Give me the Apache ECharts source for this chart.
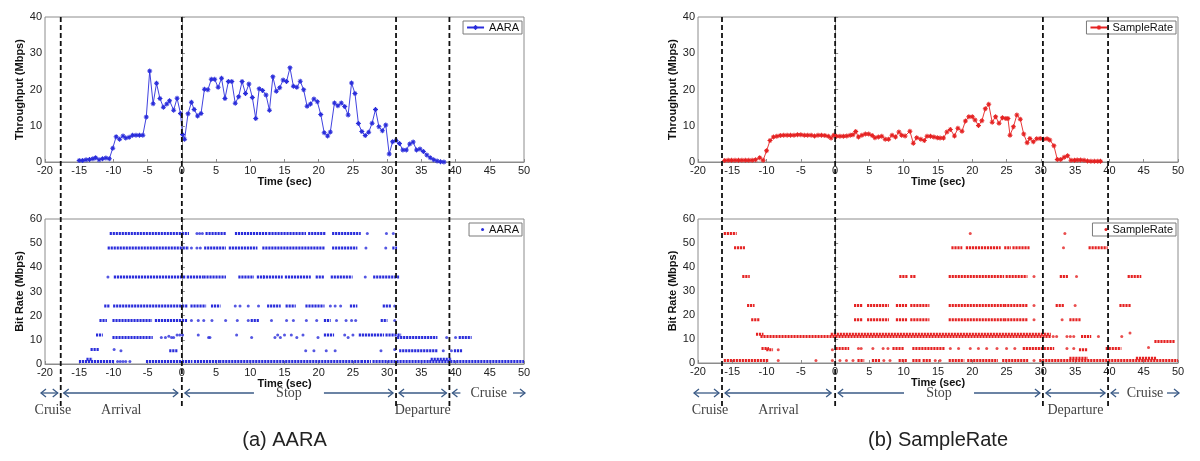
<!DOCTYPE html>
<html><head><meta charset="utf-8">
<script src="https://cdn.jsdelivr.net/npm/echarts@6/dist/echarts.min.js"></script>
<style>html,body{margin:0;padding:0;background:#fff}#c{width:1200px;height:461px}</style>
</head><body><div id="c"></div>
<script>
// ---------------- DATA ----------------
const panelCaptions = ['(a) AARA', '(b) SampleRate'];
const seriesNames = ['AARA', 'SampleRate'];
const phaseNames = ['Cruise', 'Arrival', 'Stop', 'Departure', 'Cruise'];
const aaraPhases = [-17.7, 0, 31.3, 39.1];
const srPhases = [-16.5, 0, 30.3, 39.8];

// Throughput (time sec, Mbps)
const aaraThroughput = [
 [-15.0,0.4],[-14.5,0.4],[-14.0,0.6],[-13.5,0.7],[-13.0,0.9],[-12.6,1.2],[-12.1,0.6],[-11.6,0.9],[-11.1,1.1],[-10.6,0.9],
 [-10.1,3.8],[-9.6,7.0],[-9.1,6.3],[-8.6,7.2],[-8.2,6.6],[-7.7,6.8],[-7.2,7.4],[-6.7,7.4],[-6.2,7.4],[-5.7,7.4],
 [-5.2,12.4],[-4.7,25.1],[-4.2,16.1],[-3.7,21.7],[-3.2,17.5],[-2.7,15.1],[-2.2,16.0],[-1.8,16.9],[-1.2,14.3],[-0.7,17.6],
 [-0.2,13.4],[0.1,7.6],[0.4,6.3],[0.9,13.3],[1.4,16.5],[1.8,14.5],[2.3,12.7],[2.8,13.4],[3.3,20.1],[3.8,19.9],
 [4.3,22.8],[4.8,22.8],[5.3,20.6],[5.8,23.1],[6.3,17.5],[6.8,22.2],[7.3,22.2],[7.8,16.2],[8.3,18.0],[8.8,22.2],
 [9.3,18.9],[9.8,21.5],[10.3,17.8],[10.8,12.0],[11.3,20.2],[11.8,19.7],[12.3,18.5],[12.8,14.3],[13.3,23.5],[13.8,19.5],
 [14.3,20.5],[14.8,22.6],[15.3,22.2],[15.8,26.0],[16.3,20.9],[16.8,20.6],[17.3,22.3],[17.8,19.9],[18.3,15.4],[18.8,16.0],
 [19.3,17.4],[19.8,16.6],[20.3,13.1],[20.8,8.1],[21.3,7.2],[21.7,8.3],[22.3,16.3],[22.8,15.5],[23.3,16.3],[23.8,15.3],
 [24.3,13.0],[24.8,21.8],[25.3,18.9],[25.8,10.6],[26.3,8.4],[26.8,7.3],[27.3,8.2],[27.8,10.7],[28.3,14.5],[28.8,9.7],
 [29.3,8.6],[29.8,10.2],[30.3,2.2],[30.8,5.6],[31.3,5.9],[31.8,5.1],[32.3,3.3],[32.8,3.3],[33.3,5.0],[33.8,5.5],
 [34.3,3.3],[34.8,3.6],[35.3,2.9],[35.8,1.9],[36.3,1.2],[36.8,0.6],[37.3,0.3],[37.8,0.1],[38.3,0.0]
];
const srThroughput = [
 [-16.1,0.4],[-15.6,0.5],[-15.1,0.5],[-14.6,0.5],[-14.1,0.5],[-13.6,0.5],[-13.1,0.5],[-12.6,0.5],[-12.1,0.5],[-11.6,0.6],
 [-11.0,1.2],[-10.5,0.5],[-10.0,3.1],[-9.5,5.9],[-9.0,6.9],[-8.5,7.1],[-8.0,7.3],[-7.5,7.4],[-7.0,7.4],[-6.5,7.4],
 [-6.0,7.4],[-5.5,7.5],[-5.0,7.5],[-4.5,7.4],[-4.0,7.4],[-3.5,7.4],[-3.0,7.2],[-2.5,7.4],[-2.0,7.4],[-1.5,7.3],
 [-1.0,7.1],[-0.6,6.6],[-0.2,7.4],[0.2,7.1],[0.7,7.1],[1.2,7.1],[1.7,7.2],[2.2,7.4],[2.6,7.5],[3.0,8.4],
 [3.4,6.9],[3.9,7.4],[4.4,7.7],[4.9,7.7],[5.4,7.3],[5.8,6.7],[6.3,6.9],[6.8,7.1],[7.3,6.3],[7.8,6.3],
 [8.3,7.4],[8.8,6.9],[9.3,8.3],[9.7,7.4],[10.2,7.2],[10.9,8.5],[11.4,5.2],[11.9,6.7],[12.5,6.3],[13.0,5.9],
 [13.4,7.1],[13.9,7.1],[14.4,6.9],[14.9,6.7],[15.3,6.6],[15.8,6.6],[16.3,8.3],[16.8,9.0],[17.4,7.2],[17.9,9.3],
 [18.5,8.5],[19.0,11.3],[19.5,12.5],[20.0,12.5],[20.4,11.6],[20.9,10.1],[21.4,11.4],[21.9,14.7],[22.4,15.9],[22.9,11.0],
 [23.4,12.5],[23.9,10.7],[24.4,12.2],[24.9,12.0],[25.2,12.0],[25.5,7.4],[26.0,9.7],[26.5,13.0],[27.0,11.8],[27.5,7.7],
 [28.0,5.3],[28.4,6.5],[28.9,5.6],[29.4,6.4],[29.9,6.5],[30.4,6.3],[30.9,6.4],[31.3,6.1],[31.9,4.5],[32.4,0.7],
 [32.9,0.7],[33.4,1.3],[33.9,1.7],[34.4,0.5],[34.9,0.5],[35.3,0.55],[35.8,0.55],[36.3,0.5],[36.8,0.3],[37.3,0.2],
 [37.8,0.2],[38.3,0.2],[38.7,0.2]
];

// Bit rate: dense runs of samples [from sec, to sec, rate Mbps] and isolated samples [sec, rate]
const aaraRateRuns = [
 [-10.4,0.9,54],[3.6,6.3,54],[7.9,12.5,54],[12.8,18.0,54],[18.6,20.9,54],[22.1,26.0,54],
 [-10.7,0.9,48],[3.4,6.3,48],[7.0,10.9,48],[11.9,20.7,48],[22.1,25.5,48],[30.9,31.3,48],
 [-9.8,0.5,36],[0.9,3.0,36],[3.3,6.3,36],[8.4,10.4,36],[11.1,11.9,36],[12.0,14.6,36],[15.2,18.7,36],[19.7,20.7,36],[21.9,24.8,36],[28.1,31.6,36],
 [-11.2,-10.7,24],[-9.9,0.7,24],[1.4,3.4,24],[4.4,5.5,24],[12.6,14.3,24],[15.3,16.5,24],[18.2,20.7,24],[24.7,25.5,24],[29.5,30.4,24],
 [-11.9,-11.1,18],[-10.0,-4.5,18],[-3.8,0.7,18],[10.2,11.2,18],[20.9,21.6,18],[29.2,29.9,18],
 [-12.4,-11.7,12],[-10.0,-4.4,11],[20.9,22.1,12],[26.0,29.4,12],[29.9,31.9,12],[31.6,37.2,11],[40.6,42.2,11],
 [-13.2,-12.2,6],[-1.7,-0.8,5.5],[31.9,37.2,5.5],[39.9,40.9,5.5],
 [-14.9,-10.0,1],[-13.8,-13.2,2],[-5.1,1.4,1],[1.9,5.3,1],[5.6,11.0,1],[11.3,26.0,1],[26.3,27.5,1],[28.0,36.0,1],[36.3,50,1],[36.5,39.3,2]
];
const aaraRateDots = [
 [2.2,54],[2.6,54],[3.0,54],[27.1,54],[29.9,54],[30.9,54],
 [1.4,48],[2.2,48],[2.7,48],[26.9,48],[29.8,48],
 [-10.8,36],[26.8,36],
 [7.8,24],[8.5,24],[9.7,24],[11.2,24],[21.7,24],[22.4,24],[23.2,24],[31.1,24],
 [1.4,18],[2.4,18],[3.2,18],[4.4,18],[6.4,18],[8.1,18],[9.7,18],[13.1,18],[15.3,18],[16.3,18],[18.2,18],[19.7,18],[22.6,18],[24.0,18],[24.8,18],[25.4,18],[31.1,18],
 [-3.0,11],[-2.4,11],[-1.9,11.5],[-1.5,11],[-1.2,11],[-0.7,12],[-0.3,12],[0.1,12],[2.4,12],[3.9,11],[4.1,11],[8.0,12],[10.2,11],[13.6,11],[14.0,12],[14.4,11],[15.0,12],[16.0,12],[16.8,11],[17.7,12],[19.9,11],[23.8,12],[24.3,11],[25.0,12],[38.7,11],[40.0,11],
 [-9.9,6],[-8.9,5.5],[18.1,5.5],[19.3,5.5],[21.1,5.5],[22.4,5.5],[29.1,5.5],[31.1,6],[38.2,5.5],[39.4,5.5],
 [-9.4,1],[-9.0,1],[-8.6,1],[-8.2,1],[-7.6,1]
];
const srRateRuns = [
 [-16.1,-14.5,54],
 [-14.6,-13.3,48],[17.1,18.4,48],[19.2,24.0,48],[24.8,25.5,48],[26.0,28.2,48],[37.1,39.6,48],
 [-13.4,-12.6,36],[9.5,10.4,36],[11.1,11.6,36],[16.7,24.5,36],[25.0,27.9,36],[32.9,33.8,36],[42.8,44.5,36],
 [-12.7,-11.9,24],[2.9,3.8,24],[4.8,7.7,24],[9.0,10.4,24],[11.1,13.6,24],[16.7,24.5,24],[24.8,28.0,24],[32.3,33.3,24],[41.6,43.0,24],
 [-12.1,-11.2,18],[2.9,3.8,18],[4.8,7.7,18],[9.0,10.4,18],[11.1,13.6,18],[16.7,24.5,18],[24.8,28.0,18],[34.3,35.7,18],
 [-11.4,-10.6,12],[-0.5,31.3,12],
 [-10.75,31.3,11],[36.0,37.2,11],
 [46.7,49.4,9],
 [-10.6,-9.8,6],[-9.9,-9.2,5.5],[0.2,1.9,6],[8.5,9.9,6],[11.4,15.8,6],[27.5,31.8,6],[35.7,36.7,5.5],[39.6,41.6,6],
 [-16.1,-9.8,1],[3.4,4.1,1],[5.5,6.4,1],[9.4,10.4,1],[11.4,12.4,1],[12.9,13.9,1],[16.7,18.7,1],[19.4,23.6,1],[24.5,28.0,1],[29.9,50,1],
 [34.3,36.7,2],[44.0,46.7,2]
];
const srRateDots = [
 [19.7,54],[33.5,54],
 [33.3,48],
 [29.0,36],[35.2,36],
 [29.0,24],[35.0,24],
 [29.0,18],[33.1,18],
 [31.8,11],[32.3,11],[33.8,11],[34.3,11],[34.8,11],[38.4,11],[41.8,11],[43.0,12.5],
 [-8.3,5.5],[-0.4,5.5],[3.4,6],[3.8,6],[5.5,6],[7.0,6],[7.7,6],[16.8,6],[18.0,6],[19.7,6],[20.9,6],[22.1,6],[23.6,6],[25.0,6],[26.2,6],[33.8,6],[34.8,6],[45.7,6.5],
 [-8.3,1],[-2.8,1],[-0.4,1],[0.7,1],[1.65,1],[2.6,1],[7.1,1],[8.0,1],[14.6,1],[15.3,1],[29.0,1]
];

// ---------------- STYLE ----------------
const BLUE = '#2a2ddb', RED = '#e52222';
const SANS = '"Liberation Sans", Arial, sans-serif';
const SERIF = '"Liberation Serif", "DejaVu Serif", serif';
const STAR = 'path://M4,0h2v10h-2z M0,4h10v2h-10z M1,2.4l1.4,-1.4l6.6,6.6l-1.4,1.4z M7.6,1l1.4,1.4l-6.6,6.6l-1.4,-1.4z';

const grids = [
  {left:45, top:17, width:479, height:145},
  {left:45, top:219, width:479, height:145},
  {left:698, top:17, width:480, height:145},
  {left:698, top:219, width:480, height:144}
].map(g => Object.assign({show:true, borderColor:'#8c8c8c', borderWidth:1, backgroundColor:'transparent'}, g));

function xAx(i, gap){
  return {type:'value', gridIndex:i, min:-20, max:50, interval:5,
    name:'Time (sec)', nameLocation:'middle', nameGap:gap,
    nameTextStyle:{fontFamily:SANS, fontSize:11, fontWeight:'bold', color:'#111'},
    axisLine:{show:true, onZero:false, lineStyle:{color:'#8c8c8c', width:1}},
    axisTick:{show:true, inside:true, length:3, lineStyle:{color:'#8c8c8c'}},
    axisLabel:{fontFamily:SANS, fontSize:11, color:'#222', margin:3},
    splitLine:{show:false}};
}
function yAx(i, max, name, gap){
  return {type:'value', gridIndex:i, min:0, max:max, interval:10,
    name:name, nameLocation:'middle', nameGap:gap,
    nameTextStyle:{fontFamily:SANS, fontSize:11, fontWeight:'bold', color:'#111'},
    axisLine:{show:true, lineStyle:{color:'#8c8c8c', width:1}},
    axisTick:{show:true, inside:true, length:3, lineStyle:{color:'#8c8c8c'}},
    axisLabel:{fontFamily:SANS, fontSize:11, color:'#222', margin:3},
    splitLine:{show:false}};
}
function runSeries(name, idx, data, color){
  return {type:'custom', name:name, xAxisIndex:idx, yAxisIndex:idx, data:data, clip:true,
    encode:{x:[0,1], y:2},
    renderItem:function(params, api){
      const a = api.coord([api.value(0), api.value(2)]);
      const b = api.coord([api.value(1), api.value(2)]);
      return {type:'line', shape:{x1:a[0]-1, y1:a[1], x2:b[0]+1, y2:b[1]},
        style:{stroke:color, lineWidth:3, lineDash:[2.2,0.8]}};
    }};
}
function legendBox(name, top, right, lineIcon, pad){
  const d = lineIcon ? [name] : [{name:name, icon:'circle'}];
  return {data:d, top:top, right:right, orient:'horizontal', selectedMode:false,
    borderColor:'#7a7a7a', borderWidth:1, borderRadius:0, padding:pad,
    itemWidth: lineIcon ? 17 : 3, itemHeight: lineIcon ? 6 : 3, itemGap:4,
    textStyle:{fontFamily:SANS, fontSize:11, color:'#111', padding:[1,0,0,0]}};
}

const option = {
  animation:false,
  backgroundColor:'#fff',
  grid:grids,
  xAxis:[xAx(0,14), xAx(1,13), xAx(2,14), xAx(3,13)],
  yAxis:[yAx(0,40,'Throughput (Mbps)',13), yAx(1,60,'Bit Rate (Mbps)',13), yAx(2,40,'Throughput (Mbps)',12), yAx(3,60,'Bit Rate (Mbps)',12)],
  legend:[
    legendBox(seriesNames[0], 21, 678, true, [1,3,1,3]),
    legendBox(seriesNames[0], 223, 678, false, [1,3,1,12]),
    legendBox(seriesNames[1], 21, 24, true, [1,3,1,3]),
    legendBox(seriesNames[1], 223, 24, false, [1,3,1,12])
  ],
  series:[
    {type:'line', name:seriesNames[0], xAxisIndex:0, yAxisIndex:0, data:aaraThroughput,
      symbol:STAR, symbolSize:5, showAllSymbol:true, color:BLUE,
      lineStyle:{color:BLUE, width:0.9}, itemStyle:{color:BLUE}},
    {type:'line', name:seriesNames[1], xAxisIndex:2, yAxisIndex:2, data:srThroughput,
      symbol:STAR, symbolSize:5, showAllSymbol:true, color:RED,
      lineStyle:{color:RED, width:0.9}, itemStyle:{color:RED}},
    runSeries(seriesNames[0], 1, aaraRateRuns, BLUE),
    {type:'scatter', name:seriesNames[0], xAxisIndex:1, yAxisIndex:1, data:aaraRateDots, symbol:'circle', symbolSize:3, itemStyle:{color:BLUE}},
    runSeries(seriesNames[1], 3, srRateRuns, RED),
    {type:'scatter', name:seriesNames[1], xAxisIndex:3, yAxisIndex:3, data:srRateDots, symbol:'circle', symbolSize:3, itemStyle:{color:RED}}
  ]
};

const chart = echarts.init(document.getElementById('c'));
chart.setOption(option);

// ---------- phase annotations (positions from the axes' scales) ----------
const ARROW_Y = 393, LABEL_Y = 410, DASH_BOTTOM = 406;
const ACOL = '#3a5a86';
const g = [];
function hline(x1, x2){ g.push({type:'line', shape:{x1:x1, y1:ARROW_Y, x2:x2, y2:ARROW_Y}, style:{stroke:ACOL, lineWidth:1.3}}); }
function headL(x){ g.push({type:'polyline', shape:{points:[[x+5,ARROW_Y-4],[x,ARROW_Y],[x+5,ARROW_Y+4]]}, style:{stroke:ACOL, lineWidth:1.3, fill:null}}); }
function headR(x){ g.push({type:'polyline', shape:{points:[[x-5,ARROW_Y-4],[x,ARROW_Y],[x-5,ARROW_Y+4]]}, style:{stroke:ACOL, lineWidth:1.3, fill:null}}); }
function dbl(x1, x2){ hline(x1, x2); headL(x1); headR(x2); }
function label(t, x, y){ g.push({type:'text', x:x, y:y, style:{text:t, align:'center', verticalAlign:'middle', fontFamily:SERIF, fontSize:14, fill:'#444'}}); }

[[0, aaraPhases], [2, srPhases]].forEach(function(pp, k){
  const xi = pp[0], ph = pp[1];
  const P = v => chart.convertToPixel({xAxisIndex:xi}, v);
  const top = chart.convertToPixel({yAxisIndex:xi}, 40);
  const L = P(-20), R = P(50), b = ph.map(P);
  b.forEach(function(x){
    g.push({type:'line', z:50, shape:{x1:x, y1:top, x2:x, y2:DASH_BOTTOM}, style:{stroke:'#111', lineWidth:1.8, lineDash:[5,3]}});
  });
  dbl(L-4, b[0]-3); label(phaseNames[0], (L+b[0])/2, LABEL_Y);
  dbl(b[0]+3, b[1]-4); label(phaseNames[1], (b[0]+b[1])/2, LABEL_Y);
  const m = (b[1]+b[2])/2;
  hline(b[1]+3, m-35); headL(b[1]+3);
  hline(m+35, b[2]-3); headR(b[2]-3);
  label(phaseNames[2], m, ARROW_Y);
  dbl(b[2]+3, b[3]-3); label(phaseNames[3], (b[2]+b[3])/2, LABEL_Y);
  const c = (b[3]+R)/2 + 2;
  hline(b[3]+3, b[3]+11); headL(b[3]+3);
  hline(R-11, R+1); headR(R+1);
  label(phaseNames[4], c, ARROW_Y);
  g.push({type:'text', x:(L+R)/2, y:440, style:{text:panelCaptions[k], align:'center', verticalAlign:'middle', fontFamily:SANS, fontSize:20, fill:'#222'}});
});
chart.setOption({graphic:g});
</script>
</body></html>
